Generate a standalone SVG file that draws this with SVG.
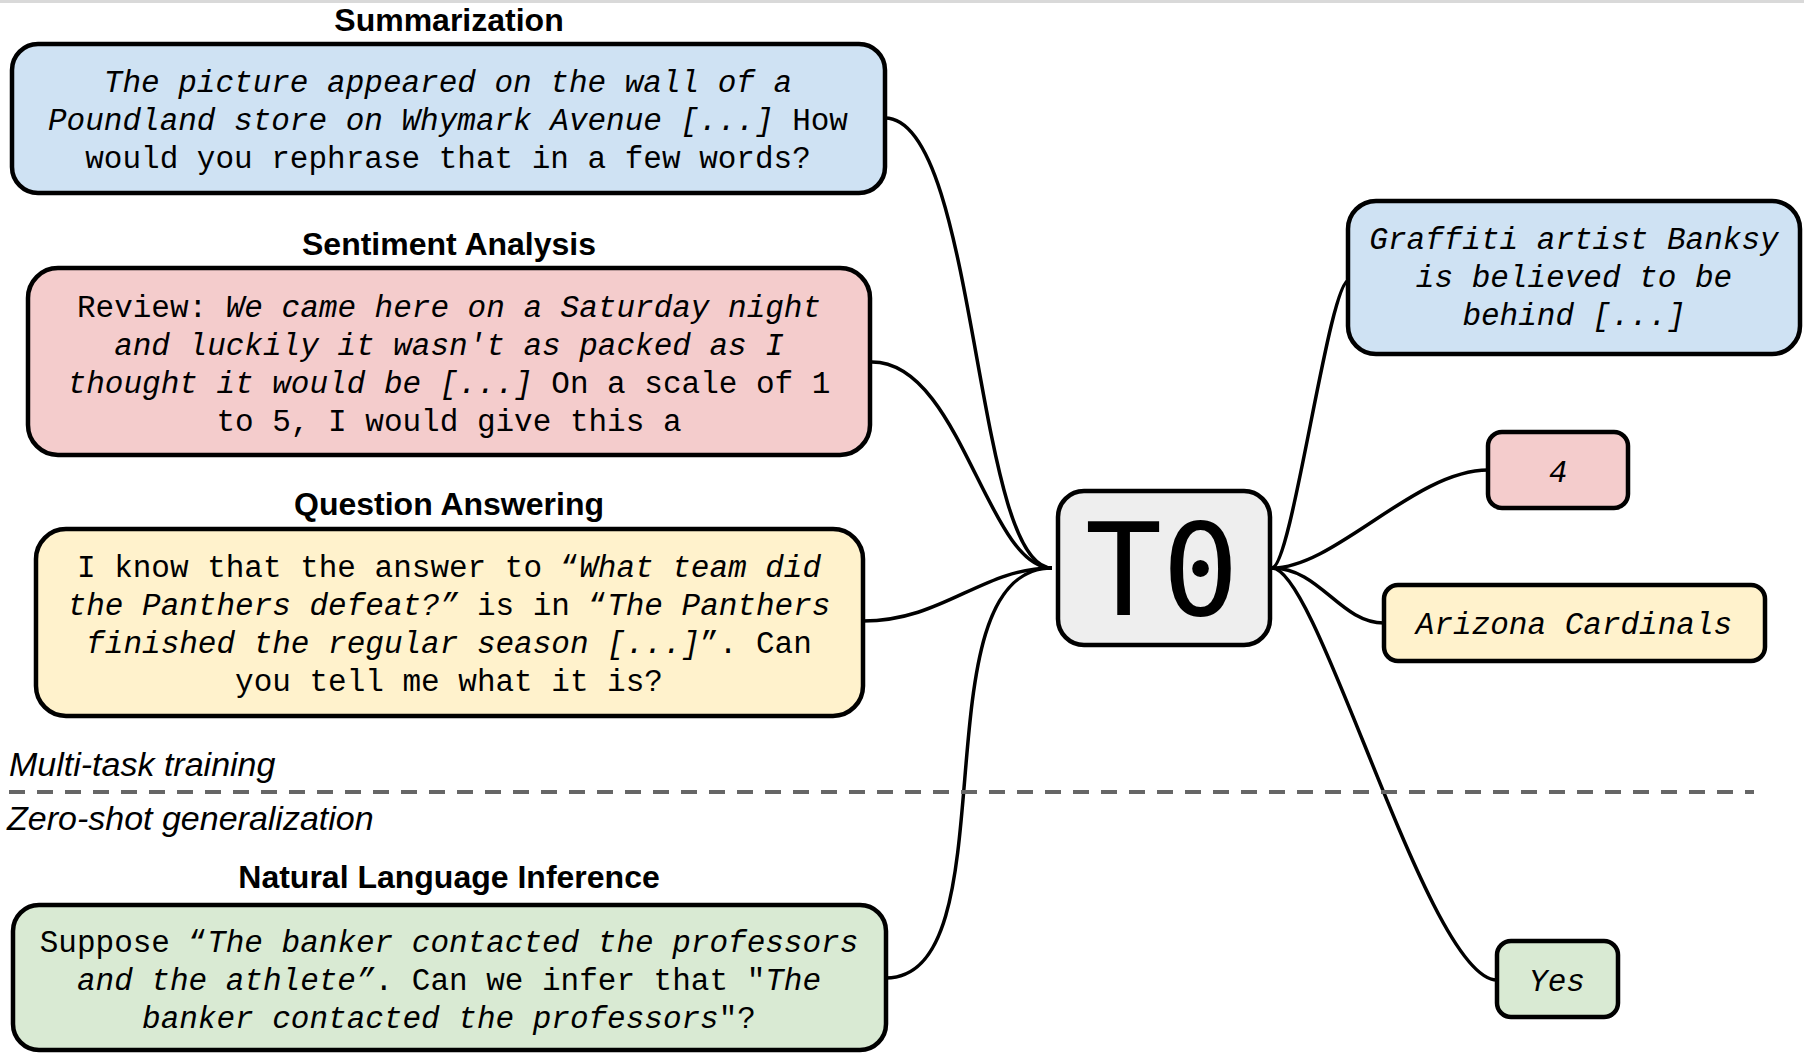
<svg xmlns="http://www.w3.org/2000/svg" width="1804" height="1056" viewBox="0 0 1804 1056">
<style>
.box{stroke:#000;stroke-width:4.5}
.blue{fill:#cfe2f3}.pink{fill:#f4cccc}.yellow{fill:#fff2cc}.green{fill:#d9ead3}.gray{fill:#eeeeee}
.mono{font-family:"Liberation Mono","DejaVu Sans Mono",monospace;font-size:31px;fill:#000;text-anchor:middle}
.it{font-style:italic}
.title{font-family:"Liberation Sans",Arial,sans-serif;font-weight:bold;font-size:32px;fill:#000;text-anchor:middle}
.label{font-family:"Liberation Sans",Arial,sans-serif;font-style:italic;font-size:34px;fill:#000}
.conn path{fill:none;stroke:#000;stroke-width:3.5}
</style>
<rect x="0" y="0" width="1804" height="1056" fill="#ffffff"/>
<rect x="0" y="0" width="1804" height="3" fill="#d9d9d9"/>

<g id="connectors" class="conn">
<path d="M885,118 C978,118 974,568 1052,568"/>
<path d="M872,362 C961,362 987,568 1052,568"/>
<path d="M863,621 C943,621 982,568 1052,568"/>
<path d="M886,978 C1013,978 915,568 1052,568"/>
<path d="M1272,568 C1292,568 1329,280 1349,280"/>
<path d="M1272,568 C1335,568 1415,470 1488,470"/>
<path d="M1272,568 C1320,568 1340,623 1384,623"/>
<path d="M1272,568 C1319,568 1428,980 1497,980"/>
</g>

<g id="separator">
<line x1="9" y1="792" x2="1754" y2="792" stroke="#666666" stroke-width="4" stroke-dasharray="16 12"/>
<text class="label" x="9" y="776">Multi-task training</text>
<text class="label" x="7" y="830">Zero-shot generalization</text>
</g>

<g id="summarization">
<text class="title" x="449" y="31">Summarization</text>
<rect class="box blue" x="12" y="44" width="873" height="149" rx="26"/>
<text class="mono" x="448" y="92"><tspan class="it">The picture appeared on the wall of a</tspan></text>
<text class="mono" x="448" y="130"><tspan class="it">Poundland store on Whymark Avenue [...]</tspan> How</text>
<text class="mono" x="448" y="168">would you rephrase that in a few words?</text>
</g>

<g id="sentiment">
<text class="title" x="449" y="255">Sentiment Analysis</text>
<rect class="box pink" x="28" y="268" width="842" height="187" rx="30"/>
<text class="mono" x="449" y="317">Review: <tspan class="it">We came here on a Saturday night</tspan></text>
<text class="mono" x="449" y="355"><tspan class="it">and luckily it wasn't as packed as I</tspan></text>
<text class="mono" x="449" y="393"><tspan class="it">thought it would be [...]</tspan> On a scale of 1</text>
<text class="mono" x="449" y="431">to 5, I would give this a</text>
</g>

<g id="qa">
<text class="title" x="449" y="515">Question Answering</text>
<rect class="box yellow" x="36" y="529" width="827" height="187" rx="30"/>
<text class="mono" x="449" y="577">I know that the answer to “<tspan class="it">What team did</tspan></text>
<text class="mono" x="449" y="615"><tspan class="it">the Panthers defeat?”</tspan> is in “<tspan class="it">The Panthers</tspan></text>
<text class="mono" x="449" y="653"><tspan class="it">finished the regular season [...]</tspan>”. Can</text>
<text class="mono" x="449" y="691">you tell me what it is?</text>
</g>

<g id="nli">
<text class="title" x="449" y="888">Natural Language Inference</text>
<rect class="box green" x="13" y="905" width="873" height="145" rx="26"/>
<text class="mono" x="449" y="952">Suppose “<tspan class="it">The banker contacted the professors</tspan></text>
<text class="mono" x="449" y="990"><tspan class="it">and the athlete”</tspan>. Can we infer that "<tspan class="it">The</tspan></text>
<text class="mono" x="449" y="1028"><tspan class="it">banker contacted the professors</tspan>"?</text>
</g>

<g id="t0">
<rect class="box gray" x="1058" y="491" width="212" height="154" rx="26" stroke-width="6"/>
<text x="1162" y="615" font-family="DejaVu Sans Mono, Liberation Mono, monospace" font-size="128" text-anchor="middle" fill="#000">T0</text>
</g>

<g id="out-summary">
<rect class="box blue" x="1348" y="201" width="452" height="153" rx="28"/>
<text class="mono it" x="1574" y="249">Graffiti artist Banksy</text>
<text class="mono it" x="1574" y="287">is believed to be</text>
<text class="mono it" x="1574" y="325">behind [...]</text>
</g>

<g id="out-sentiment">
<rect class="box pink" x="1488" y="432" width="140" height="76" rx="14"/>
<text class="mono it" x="1558" y="482">4</text>
</g>

<g id="out-qa">
<rect class="box yellow" x="1384" y="585" width="381" height="76" rx="14"/>
<text class="mono it" x="1574" y="634">Arizona Cardinals</text>
</g>

<g id="out-nli">
<rect class="box green" x="1497" y="941" width="121" height="76" rx="14"/>
<text class="mono it" x="1557" y="991">Yes</text>
</g>
</svg>
